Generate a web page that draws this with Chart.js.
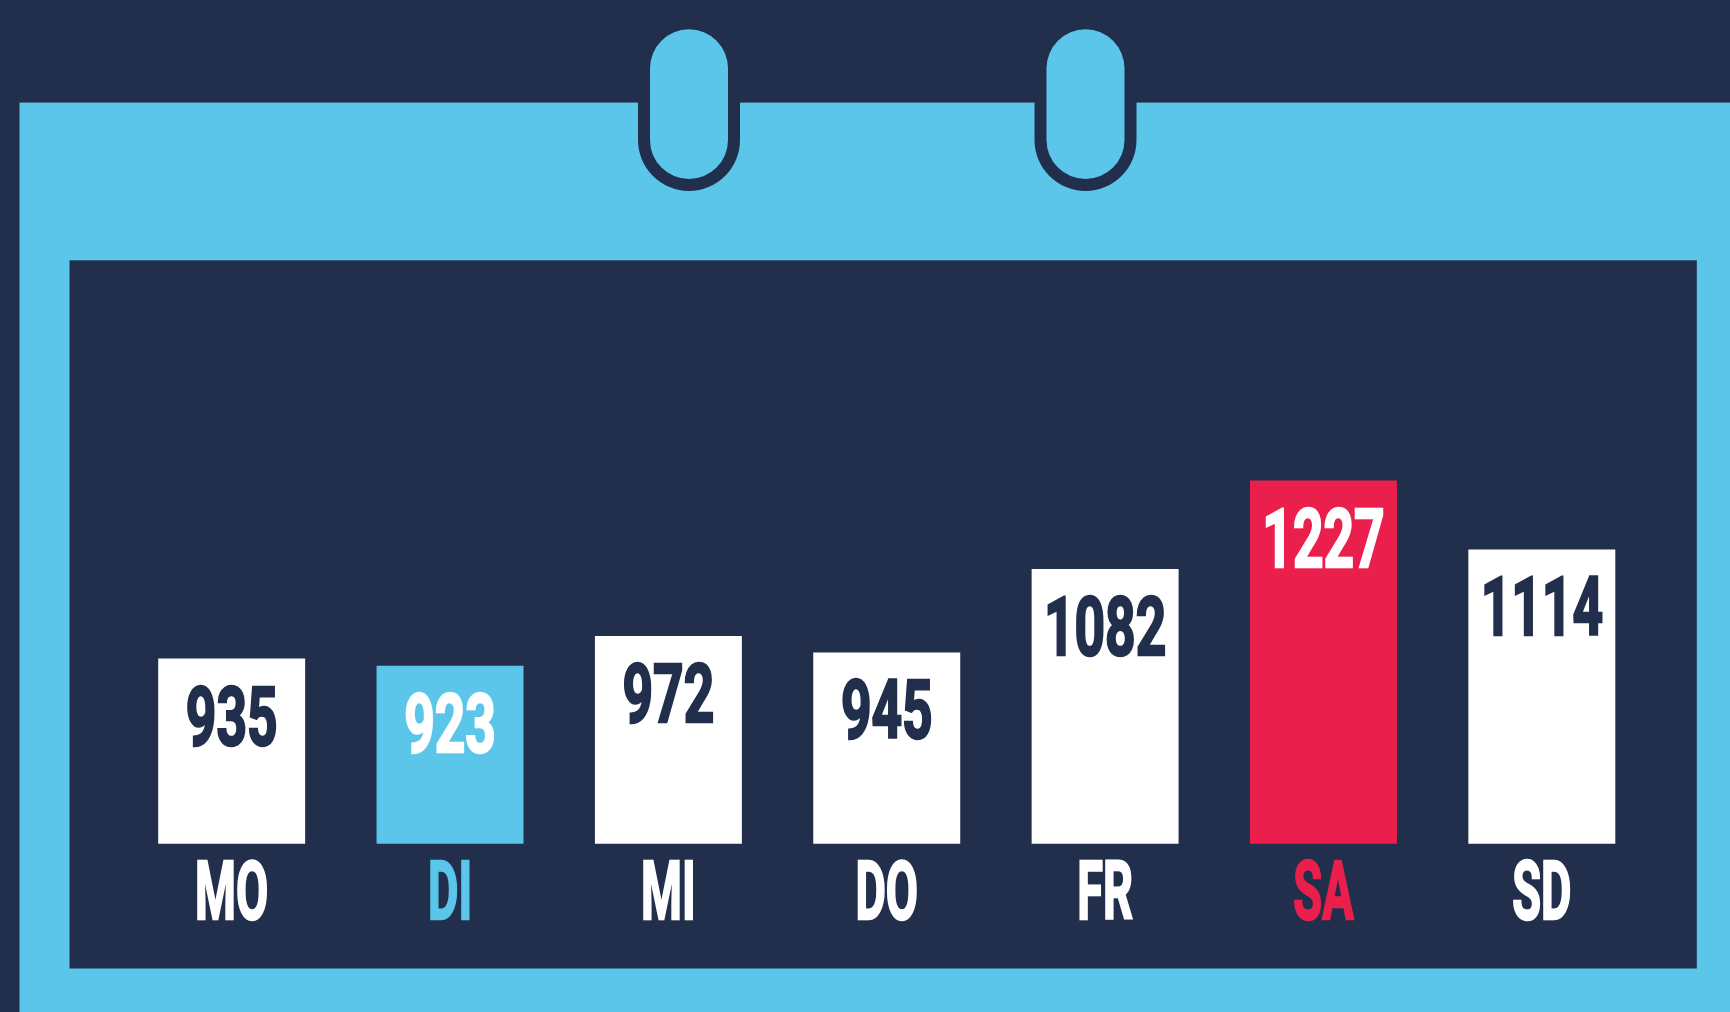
<!DOCTYPE html>
<html>
<head>
<meta charset="utf-8">
<script src="https://cdn.jsdelivr.net/npm/chart.js@4.4.1/dist/chart.umd.min.js"></script>
<style>
  html, body { margin: 0; padding: 0; background: #212e4c; overflow: hidden; }
  #wrap { width: 1730px; height: 1012px; }
</style>
</head>
<body>
<div id="wrap"><canvas id="c" width="1730" height="1012"></canvas></div>
<script>
// ---- data ----
const days = ['MO', 'DI', 'MI', 'DO', 'FR', 'SA', 'SD'];
const visits = [935, 923, 972, 945, 1082, 1227, 1114];

// ---- styles ----
const NAVY = '#212e4c';
const BLUE = '#5bc5ea';
const RED = '#eb1f4b';
const WHITE = '#ffffff';
const barColors = [WHITE, BLUE, WHITE, WHITE, WHITE, RED, WHITE];
const valueColors = [NAVY, WHITE, NAVY, NAVY, NAVY, WHITE, NAVY];
const labelColors = [WHITE, BLUE, WHITE, WHITE, WHITE, RED, WHITE];
const FONT = '700 82px Roboto';

function narrowText(ctx, text, x, y, sx, color) {
  ctx.save();
  ctx.translate(x, y);
  ctx.scale(sx, 1);
  ctx.font = FONT;
  ctx.fillStyle = color;
  ctx.strokeStyle = color;
  ctx.lineWidth = 2.5;
  ctx.lineJoin = 'miter';
  ctx.textAlign = 'center';
  ctx.textBaseline = 'alphabetic';
  ctx.fillText(text, 0, -1);
  ctx.strokeText(text, 0, -1);
  ctx.restore();
}

function capsule(ctx, x1, y1, x2, y2, r, color, roundTop) {
  ctx.beginPath();
  const cx = (x1 + x2) / 2;
  if (roundTop) {
    ctx.moveTo(x1, y1 + r);
    ctx.arc(cx, y1 + r, r, Math.PI, 0);
  } else {
    ctx.moveTo(x1, y1);
    ctx.lineTo(x2, y1);
  }
  ctx.lineTo(x2, y2 - r);
  ctx.arc(cx, y2 - r, r, 0, Math.PI);
  ctx.closePath();
  ctx.fillStyle = color;
  ctx.fill();
}

const calendarPlugin = {
  id: 'calendar',
  beforeDraw(chart) {
    const ctx = chart.ctx;
    const W = chart.width, H = chart.height;
    ctx.save();
    ctx.fillStyle = NAVY;
    ctx.fillRect(0, 0, W, H);
    // outer calendar frame
    ctx.fillStyle = BLUE;
    ctx.fillRect(19.5, 102.6, W - 19.5, H - 102.6);
    // inner panel
    ctx.fillStyle = NAVY;
    ctx.fillRect(69.5, 260.3, 1696.8 - 69.5, 968.5 - 260.3);
    // rings
    [689, 1085.5].forEach(cx => {
      capsule(ctx, cx - 51, 60, cx + 51, 191, 51, NAVY, false);
      capsule(ctx, cx - 39, 29.3, cx + 39, 179, 39, BLUE, true);
    });
    ctx.restore();
  },
  afterDatasetsDraw(chart) {
    const ctx = chart.ctx;
    const meta = chart.getDatasetMeta(0);
    const xs = chart.scales.x;
    meta.data.forEach((bar, i) => {
      narrowText(ctx, String(visits[i]), bar.x, bar.y + 87, 0.65, valueColors[i]);
    });
    days.forEach((d, i) => {
      const x = xs.getPixelForValue(i);
      narrowText(ctx, d, x, 919.5, 0.57, labelColors[i]);
    });
  }
};

new Chart(document.getElementById('c'), {
  type: 'bar',
  data: {
    labels: days,
    datasets: [{
      data: visits,
      backgroundColor: barColors,
      borderWidth: 0,
      categoryPercentage: 1,
      barPercentage: 0.673
    }]
  },
  options: {
    responsive: false,
    devicePixelRatio: 1,
    animation: false,
    layout: { padding: { left: 122.5, right: 79, top: 260, bottom: 168.2 } },
    plugins: { legend: { display: false }, tooltip: { enabled: false } },
    scales: {
      x: { display: false, grid: { display: false } },
      y: { display: false, min: 631, max: 1589, grid: { display: false } }
    }
  },
  plugins: [calendarPlugin]
});
</script>
</body>
</html>
